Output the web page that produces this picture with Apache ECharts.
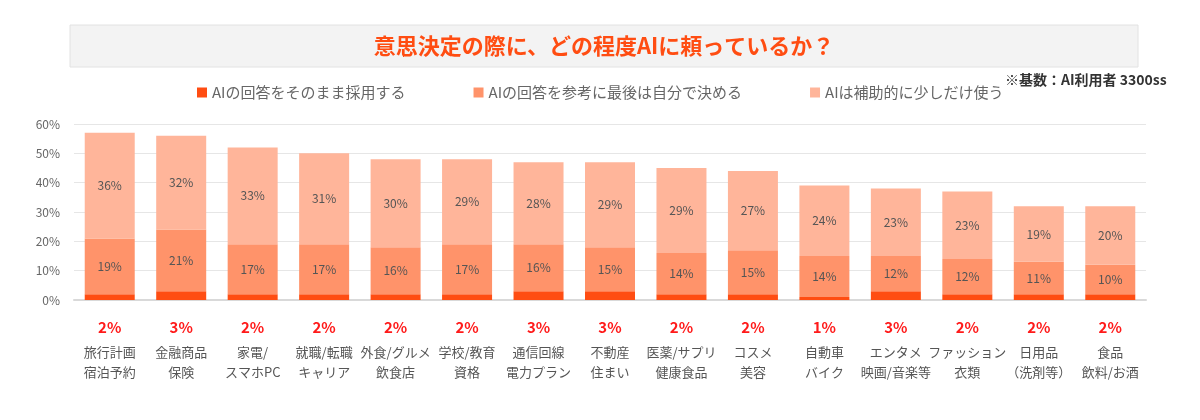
<!DOCTYPE html>
<html><head><meta charset="utf-8">
<script src="https://cdn.jsdelivr.net/npm/echarts@6/dist/echarts.min.js"></script>
<style>html,body{margin:0;background:#fff}#c{width:1200px;height:420px}</style>
</head><body><div id="c"></div>
<script>
const categories = ['旅行計画\n宿泊予約','金融商品\n保険','家電/\nスマホPC','就職/転職\nキャリア','外食/グルメ\n飲食店','学校/教育\n資格','通信回線\n電力プラン','不動産\n住まい','医薬/サプリ\n健康食品','コスメ\n美容','自動車\nバイク','エンタメ\n映画/音楽等','ファッション\n衣類','日用品\n（洗剤等）','食品\n飲料/お酒'];
const adopt = [2,3,2,2,2,2,3,3,2,2,1,3,2,2,2];
const decide = [19,21,17,17,16,17,16,15,14,15,14,12,12,11,10];
const assist = [36,32,33,31,30,29,28,29,29,27,24,23,23,19,20];
const seriesNames = ['AIの回答をそのまま採用する','AIの回答を参考に最後は自分で決める','AIは補助的に少しだけ使う'];
const colors = ['#ff4d12','#ff936a','#ffb59a'];

const chart = echarts.init(document.getElementById('c'));
const font = '"Noto Sans CJK JP", sans-serif';
const segLabel = {show:true, position:'inside', color:'#555', fontSize:12, fontFamily:font, formatter:'{c}%'};
chart.setOption({
  textStyle:{fontFamily:font},
  graphic:[
    {type:'rect', shape:{x:70,y:25,width:1068,height:42}, style:{fill:'#f3f3f3', stroke:'#e2e2e2', lineWidth:1}},
    {type:'text', x:604, y:46, style:{text:'意思決定の際に、どの程度AIに頼っているか？', fill:'#ff4d12', font:'bold 22px "Noto Sans CJK JP"', align:'center', verticalAlign:'middle'}},
    {type:'text', x:1005, y:73, style:{text:'※基数：AI利用者 3300ss', fill:'#333', font:'bold 14px "Noto Sans CJK JP"'}}
  ],
  legend:{top:80, left:192, itemWidth:10, itemHeight:10, itemGap:68, icon:'rect',
    textStyle:{color:'#666', fontSize:15, fontFamily:font}, data:seriesNames},
  grid:{left:74, right:54, top:124, bottom:120},
  yAxis:{type:'value', min:0, max:60, interval:10,
    axisLabel:{formatter:'{value}%', color:'#666', fontSize:12, margin:14},
    splitLine:{lineStyle:{color:'#e6e6e6'}}, axisLine:{show:false}, axisTick:{show:false}},
  xAxis:{type:'category', data:categories,
    axisLine:{lineStyle:{color:'#d9d9d9', width:2}}, axisTick:{show:false},
    axisLabel:{interval:0, margin:12, fontSize:13, color:'#555', lineHeight:20,
      formatter:(v,i)=>'{p|'+adopt[i]+'%}\n'+v,
      rich:{p:{color:'#ff1a1a', fontWeight:'bold', fontSize:15, lineHeight:30}}}},
  series:[
    {name:seriesNames[0], type:'bar', stack:'a', data:adopt, barWidth:50, itemStyle:{color:colors[0]}},
    {name:seriesNames[1], type:'bar', stack:'a', data:decide, itemStyle:{color:colors[1]}, label:segLabel},
    {name:seriesNames[2], type:'bar', stack:'a', data:assist, itemStyle:{color:colors[2]}, label:segLabel}
  ]
});
</script></body></html>
